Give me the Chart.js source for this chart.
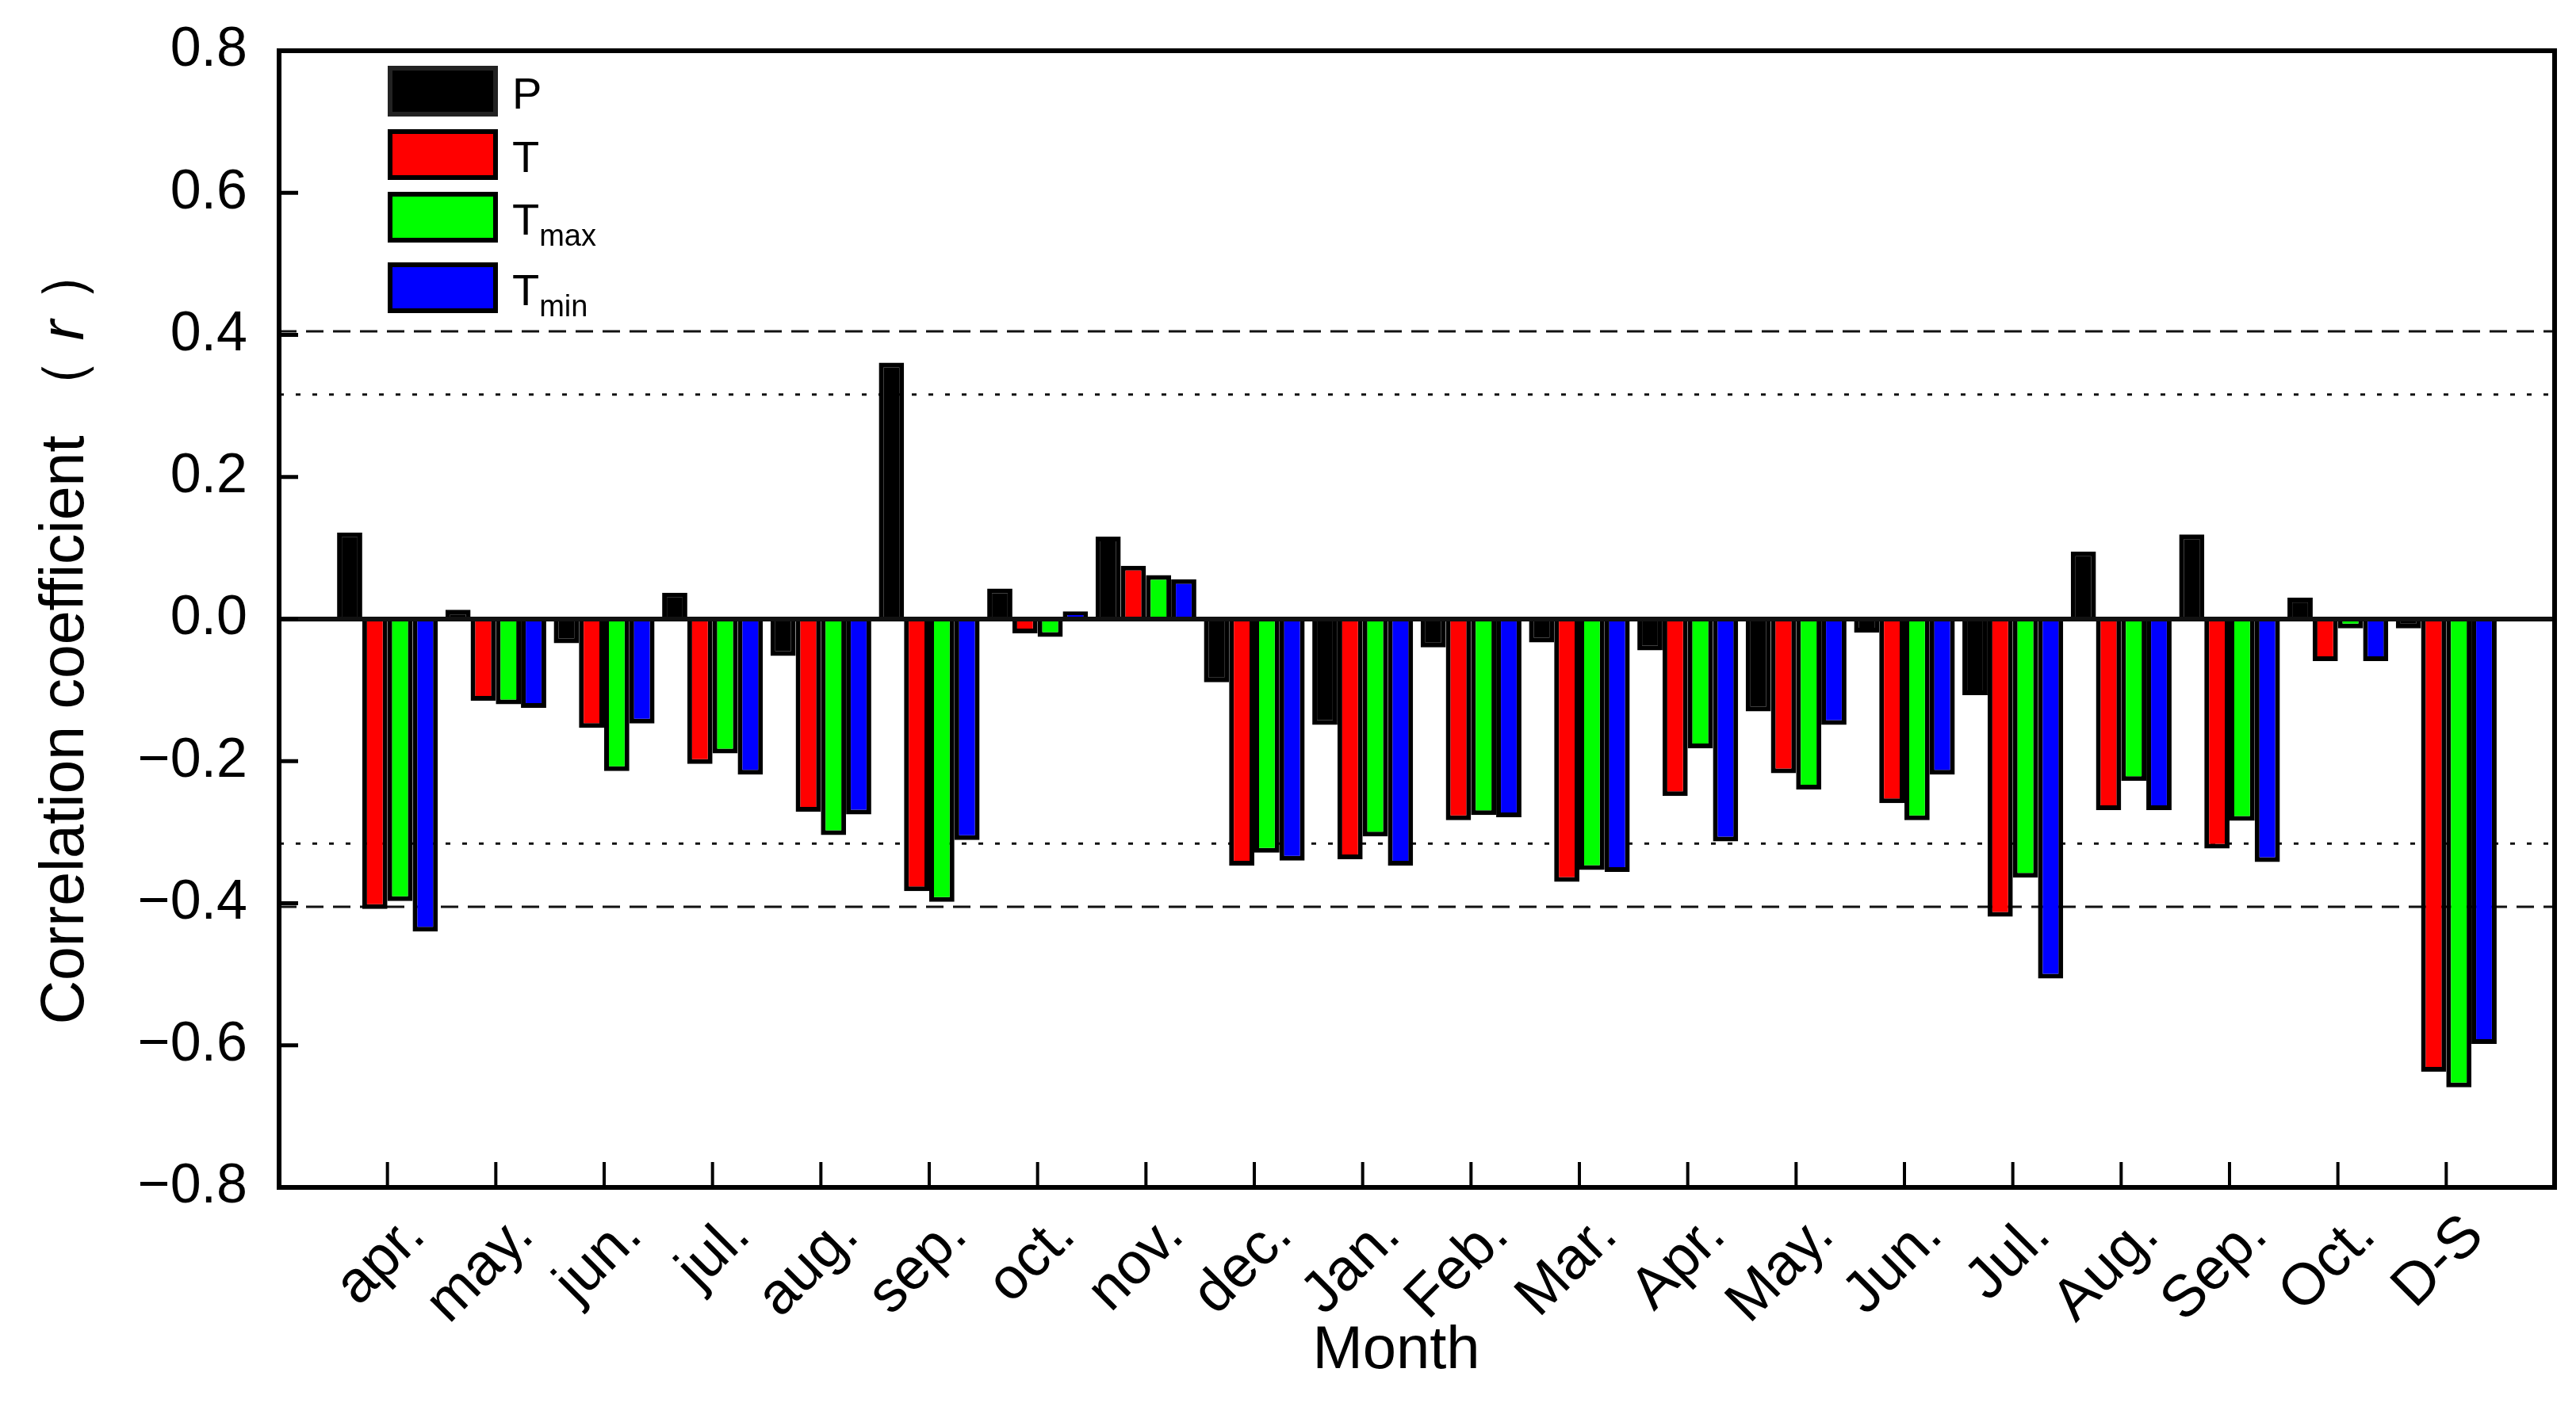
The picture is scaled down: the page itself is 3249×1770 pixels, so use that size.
<!DOCTYPE html>
<html>
<head>
<meta charset="utf-8">
<script src="https://cdn.jsdelivr.net/npm/chart.js@4/dist/chart.umd.min.js"></script>
<style>
  body { margin: 0; background: #fff; }
  canvas { display: block; }
</style>
</head>
<body>
<canvas id="grafico_correlacao" width="3249" height="1770"></canvas>
<script>
/* ===== DADOS ===== */
const MESES = ['apr.', 'may.', 'jun.', 'jul.', 'aug.', 'sep.', 'oct.', 'nov.', 'dec.', 'Jan.',
  'Feb.', 'Mar.', 'Apr.', 'May.', 'Jun.', 'Jul.', 'Aug.', 'Sep.', 'Oct.', 'D-S'];

const SERIE_P = [0.122, 0.013, -0.034, 0.037, -0.052, 0.361, 0.043, 0.116, -0.089, -0.149,
  -0.040, -0.033, -0.044, -0.130, -0.019, -0.107, 0.095, 0.119, 0.030, -0.013];
const SERIE_T = [-0.408, -0.115, -0.153, -0.204, -0.271, -0.383, -0.020, 0.075, -0.347, -0.338,
  -0.283, -0.370, -0.249, -0.217, -0.259, -0.419, -0.269, -0.323, -0.059, -0.637];
const SERIE_TMAX = [-0.397, -0.120, -0.214, -0.189, -0.304, -0.398, -0.025, 0.062, -0.329, -0.306,
  -0.276, -0.353, -0.182, -0.240, -0.283, -0.364, -0.228, -0.284, -0.013, -0.659];
const SERIE_TMIN = [-0.440, -0.125, -0.147, -0.219, -0.275, -0.311, 0.011, 0.056, -0.340, -0.347,
  -0.279, -0.356, -0.313, -0.149, -0.219, -0.506, -0.269, -0.342, -0.059, -0.598];

// nomes da legenda: texto principal + subscrito
const NOMES = ['P', 'T', 'T', 'T'];
const SUBSCRITOS = ['', '', 'max', 'min'];
const CORES = ['#000000', '#ff0000', '#00ff00', '#0000ff'];

// limites de significancia (tracejado 0.01, pontilhado 0.05)
const LIMITE_TRACEJADO = [0.405, -0.405];
const LIMITE_PONTILHADO = [0.316, -0.316];

const Y_TICKS = [-0.8, -0.6, -0.4, -0.2, 0.0, 0.2, 0.4, 0.6, 0.8];

/* ===== GRAFICO ===== */
const FONTE = "'Liberation Sans', Arial, sans-serif";
const grafico_ctx = document.getElementById('grafico_correlacao');

function monta_serie(valores) {
  return valores.map((v, i) => ({ x: i, y: v }));
}

const series = [SERIE_P, SERIE_T, SERIE_TMAX, SERIE_TMIN];
const datasets = series.map((s, k) => ({
  label: NOMES[k] + SUBSCRITOS[k],
  data: monta_serie(s),
  backgroundColor: CORES[k],
  borderColor: '#000',
  borderWidth: 6,
  categoryPercentage: 0.93,
  barPercentage: 1.0
}));

function linha_horizontal(ctx, area, y, dash, largura) {
  ctx.save();
  ctx.beginPath();
  ctx.setLineDash(dash);
  ctx.lineWidth = largura;
  ctx.strokeStyle = '#111';
  ctx.moveTo(area.left, y);
  ctx.lineTo(area.right, y);
  ctx.stroke();
  ctx.restore();
}

const desenho_extra = {
  id: 'desenho_extra',
  beforeDatasetsDraw(chart) {
    const ctx = chart.ctx;
    const area = chart.chartArea;
    const ys = chart.scales.y;
    LIMITE_TRACEJADO.forEach(v => linha_horizontal(ctx, area, ys.getPixelForValue(v), [22, 12], 3));
    LIMITE_PONTILHADO.forEach(v => linha_horizontal(ctx, area, ys.getPixelForValue(v), [6, 15], 3));
  },
  afterDatasetsDraw(chart) {
    const ctx = chart.ctx;
    const area = chart.chartArea;
    const ys = chart.scales.y;
    const xs = chart.scales.x;

    // linha do zero
    linha_horizontal(ctx, area, ys.getPixelForValue(0), [], 6);

    ctx.save();
    ctx.strokeStyle = '#000';
    // marcas do eixo y (para dentro)
    ctx.lineWidth = 5;
    ys.ticks.forEach(t => {
      const y = ys.getPixelForValue(t.value);
      ctx.beginPath();
      ctx.moveTo(area.left, y);
      ctx.lineTo(area.left + 24, y);
      ctx.stroke();
    });
    // marcas do eixo x (para dentro)
    ctx.lineWidth = 4;
    xs.ticks.forEach(t => {
      const x = xs.getPixelForValue(t.value);
      ctx.beginPath();
      ctx.moveTo(x, area.bottom);
      ctx.lineTo(x, area.bottom - 32);
      ctx.stroke();
    });
    // moldura
    ctx.lineWidth = 6;
    ctx.strokeRect(area.left, area.top, area.right - area.left, area.bottom - area.top);

    // legenda
    const topos = [19, 99, 178, 267];
    topos.forEach((dy, k) => {
      const bx = area.left + 137, by = area.top + dy;
      ctx.fillStyle = CORES[k];
      ctx.fillRect(bx, by, 139, 64);
      ctx.lineWidth = 6;
      ctx.strokeStyle = k == 0 ? '#222' : '#000';
      ctx.strokeRect(bx + 3, by + 3, 133, 58);
      ctx.fillStyle = '#000';
      ctx.textAlign = 'left';
      ctx.textBaseline = 'alphabetic';
      ctx.font = '56px ' + FONTE;
      const base = by + 54;
      ctx.fillText(NOMES[k], bx + 157, base);
      if (SUBSCRITOS[k]) {
        const w = ctx.measureText(NOMES[k]).width;
        ctx.font = '38px ' + FONTE;
        ctx.fillText(SUBSCRITOS[k], bx + 157 + w, base + 14);
      }
    });

    // titulo do eixo y
    const partes = [
      ['Correlation coefficient ', ''],
      ['（', ''],
      [' r ', 'italic '],
      ['）', '']
    ];
    let total = 0;
    const larguras = partes.map(p => {
      ctx.font = p[1] + '77px ' + FONTE;
      const w = ctx.measureText(p[0]).width;
      total += w;
      return w;
    });
    ctx.translate(84, (area.top + area.bottom) / 2 + 18);
    ctx.rotate(-Math.PI / 2);
    ctx.textBaseline = 'middle';
    let px = -total / 2;
    partes.forEach((p, i) => {
      ctx.font = p[1] + '77px ' + FONTE;
      ctx.fillText(p[0], px, 0);
      px += larguras[i];
    });
    ctx.restore();

    // titulo do eixo x
    ctx.save();
    ctx.font = '76px ' + FONTE;
    ctx.fillStyle = '#000';
    ctx.textAlign = 'center';
    ctx.textBaseline = 'middle';
    ctx.fillText('Month', (area.left + area.right) / 2 - 26, 1705);
    ctx.restore();
  }
};

const grafico = new Chart(grafico_ctx, {
  type: 'bar',
  data: { datasets: datasets },
  options: {
    responsive: false,
    animation: false,
    devicePixelRatio: 1,
    layout: { padding: { left: 0, top: 64, right: 27, bottom: 0 } },
    plugins: {
      legend: { display: false },
      tooltip: { enabled: false }
    },
    scales: {
      x: {
        type: 'linear',
        offset: false,
        min: -1,
        max: 20,
        afterBuildTicks: s => { s.ticks = MESES.map((_, i) => ({ value: i })); },
        afterFit: s => { s.height = 272; s.paddingLeft = 0; s.paddingRight = 0; },
        grid: { display: false, drawTicks: false, offset: false },
        border: { display: false },
        ticks: {
          autoSkip: false,
          minRotation: 45,
          maxRotation: 45,
          padding: 18,
          labelOffset: 36,
          color: '#000',
          font: { family: FONTE, size: 74 },
          callback: v => MESES[v]
        }
      },
      y: {
        min: -0.8,
        max: 0.8,
        afterBuildTicks: s => { s.ticks = Y_TICKS.map(v => ({ value: v })); },
        afterFit: s => { s.width = 352; s.paddingTop = 0; s.paddingBottom = 0; },
        grid: { display: false, drawTicks: false },
        border: { display: false },
        ticks: {
          padding: 40,
          color: '#000',
          font: { family: FONTE, size: 70 },
          callback: v => (v < 0 ? '\u2212' : '') + Math.abs(v).toFixed(1)
        }
      }
    }
  },
  plugins: [desenho_extra]
});
</script>
</body>
</html>
